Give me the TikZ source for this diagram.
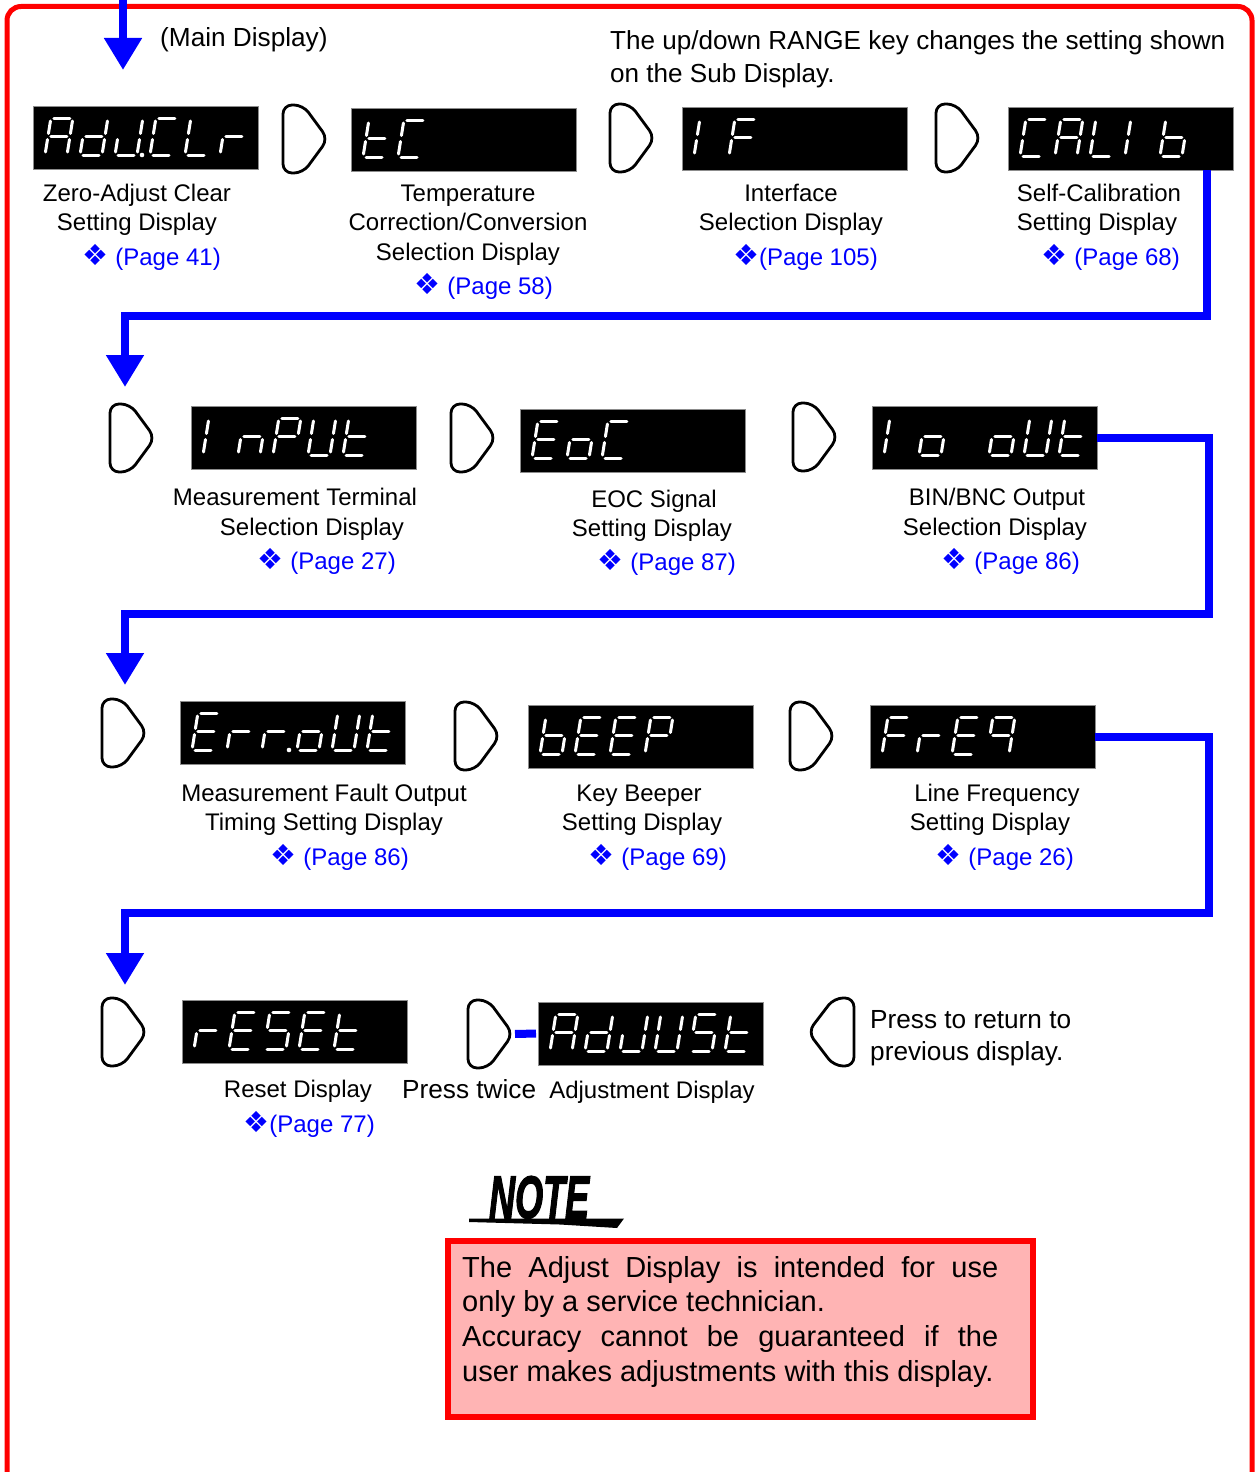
\documentclass[tikz,border=0pt]{standalone}
\usepackage{fontspec}
\setmainfont{Liberation Sans}
\newfontfamily\djv{DejaVu Sans}
\newfontfamily\notefont[FakeBold=2.5]{Liberation Sans}
\usetikzlibrary{arrows.meta,calc}
\definecolor{pblue}{RGB}{0,0,255}
\definecolor{nfill}{RGB}{255,180,180}
\newcommand\fsA{\fontsize{24}{29}\selectfont}
\newcommand\fsB{\fontsize{26.2}{32}\selectfont}
\newcommand\dmd{{\djv\fontsize{29}{29}\selectfont ❖}}
% seven-segment drawing
\newcommand\segln[4]{\draw[seg] ({\lcdX+#1+0.16*#2},{\lcdY-#2}) -- ({\lcdX+#3+0.16*#4},{\lcdY-#4});}
\def\sgA{\segln{3}{37}{19}{37}}
\def\sgB{\segln{22}{34}{22}{21.5}}
\def\sgC{\segln{22}{15.5}{22}{3}}
\def\sgD{\segln{3}{0}{19}{0}}
\def\sgE{\segln{0}{3}{0}{15.5}}
\def\sgF{\segln{0}{21.5}{0}{34}}
\def\sgG{\segln{3}{18.5}{19}{18.5}}
\def\sgDP{\fill[white] ({\lcdX-8},{\lcdY}) circle[radius=2.3pt];}
\newcommand\lcdadv{\pgfmathsetmacro\lcdX{\lcdX+35}}
\def\dgA{\sgA\sgB\sgC\sgE\sgF\sgG\lcdadv}
\def\dgb{\sgC\sgD\sgE\sgF\sgG\lcdadv}
\def\dgC{\sgA\sgD\sgE\sgF\lcdadv}
\def\dgd{\sgB\sgC\sgD\sgE\sgG\lcdadv}
\def\dgE{\sgA\sgD\sgE\sgF\sgG\lcdadv}
\def\dgF{\sgA\sgE\sgF\sgG\lcdadv}
\def\dgI{\sgE\sgF\lcdadv}
\def\dgJ{\sgB\sgC\sgD\sgE\lcdadv}
\def\dgL{\sgD\sgE\sgF\lcdadv}
\def\dgn{\sgC\sgE\sgG\lcdadv}
\def\dgo{\sgC\sgD\sgE\sgG\lcdadv}
\def\dgP{\sgA\sgB\sgE\sgF\sgG\lcdadv}
\def\dgq{\sgA\sgB\sgC\sgF\sgG\lcdadv}
\def\dgr{\sgE\sgG\lcdadv}
\def\dgS{\sgA\sgC\sgD\sgF\sgG\lcdadv}
\def\dgt{\sgD\sgE\sgF\sgG\lcdadv}
\def\dgU{\sgB\sgC\sgD\sgE\sgF\lcdadv}
\def\dgsp{\lcdadv}
\newcommand\lcd[4]{\node[lcdbox] (#1) at (#2,#3) {};
  \pgfmathsetmacro\lcdX{#2+12}\pgfmathsetmacro\lcdY{#3+49}#4}
\newcommand\keyR[3]{\coordinate (#1) at (#2,#3);
  \coordinate (#1t) at ($(#1)+(45,34)$);
  \draw[keyst] ($(#1)+(0,34)$) -- ++(0,-34) -- ++(20,0) -- ++(25,34) -- ++(-25,34) -- ++(-20,0) -- cycle;}
\newcommand\keyL[3]{\coordinate (#1) at (#2,#3);
  \draw[keyst] ($(#1)+(46,34)$) -- ++(0,-34) -- ++(-20,0) -- ++(-26,34) -- ++(26,34) -- ++(20,0) -- cycle;}
\tikzset{
  seg/.style={draw=white, line width=3pt, line cap=round},
  lcdbox/.style={fill=black, draw=black!45, line width=0.8pt, minimum width=225pt, minimum height=63pt, inner sep=0pt, outer sep=0pt, anchor=north west},
  keyst/.style={draw=black, fill=white, line width=2.8pt, rounded corners=9pt, line join=round},
  flow/.style={draw=pblue, line width=8pt, line join=miter, -{Triangle[width=36pt,length=32pt]}},
  flowline/.style={draw=pblue, line width=8pt, shorten <=2pt, shorten >=2pt},
  lbl/.style={font=\fsA, anchor=base, inner sep=0pt},
  lblw/.style={font=\fsB, anchor=base west, inner sep=0pt},
  pg/.style={font=\fsA, text=pblue, anchor=base east, inner sep=0pt},
  frame/.style={draw=red, line width=5pt, rounded corners=14pt},
}
\begin{document}
\begin{tikzpicture}[x=1pt,y=-1pt]
\useasboundingbox (0,0) rectangle (1255,1472);
% outer frame
\draw[frame] (7,1480) -- (7,6.5) -- (1252,6.5) -- (1252,1480);
% top arrow
\coordinate (a0s) at (123,-2);
\coordinate (a0) at (123,70);
\draw[flow] (a0s) -- (a0);
\node[lblw] (tmain) at (160,47) {(Main Display)};
\node[lblw, font=\fontsize{26.1}{32}\selectfont] (trange1) at (610,50) {The up/down RANGE key changes the setting shown};
\node[lblw, font=\fontsize{26.1}{32}\selectfont] (trange2) at (610,82) {on the Sub Display.};

% Row 1
\lcd{D1}{33}{106}{\dgA\dgd\dgJ\sgDP\dgC\dgL\dgr}
\keyR{K1}{283}{105}
\lcd{D2}{351}{108}{\dgt\dgC}
\keyR{K2}{610}{104}
\lcd{D3}{682}{107}{\dgI\dgF}
\keyR{K3}{936}{104}
\lcd{D4}{1008}{107}{\dgC\dgA\dgL\dgI\dgb}

\node[lbl] (l1a) at (137,201) {Zero-Adjust Clear};
\node[lbl] (l1b) at (137,230) {Setting Display};
\node[pg] (p1) at (221,265) {\dmd\ (Page 41)};
\node[lbl] (l2a) at (468,201) {Temperature};
\node[lbl] (l2b) at (468,230) {Correction/Conversion};
\node[lbl] (l2c) at (468,260) {Selection Display};
\node[pg] (p2) at (553,294) {\dmd\ (Page 58)};
\node[lbl] (l3a) at (791,201) {Interface};
\node[lbl] (l3b) at (791,230) {Selection Display};
\node[pg] (p3) at (878,265) {\dmd(Page 105)};
\node[lbl] (l4a) at (1099,201) {Self-Calibration};
\node[lbl] (l4b) at (1097,230) {Setting Display};
\node[pg] (p4) at (1180,265) {\dmd\ (Page 68)};

% connector 1
\coordinate (r1) at (1207,316);
\coordinate (l1) at (125,316);
\coordinate (a1) at (125,387);
\draw[flow] (D4.south -| r1) -- (r1) -- (l1) -- (a1);

% Row 2
\keyR{K4}{110}{404}
\lcd{D5}{191}{406}{\dgI\dgn\dgP\dgU\dgt}
\keyR{K5}{451}{404}
\lcd{D6}{520}{409}{\dgE\dgo\dgC}
\keyR{K6}{793}{403}
\lcd{D7}{872}{406}{\dgI\dgo\dgsp\dgo\dgU\dgt}

\node[lbl] (l5a) at (295,505) {Measurement Terminal};
\node[lbl] (l5b) at (312,535) {Selection Display};
\node[pg] (p5) at (396,569) {\dmd\ (Page 27)};
\node[lbl] (l6a) at (654,507) {EOC Signal};
\node[lbl] (l6b) at (652,536) {Setting Display};
\node[pg] (p6) at (736,570) {\dmd\ (Page 87)};
\node[lbl] (l7a) at (997,505) {BIN/BNC Output};
\node[lbl] (l7b) at (995,535) {Selection Display};
\node[pg] (p7) at (1080,569) {\dmd\ (Page 86)};

% connector 2
\coordinate (r2) at (1209,614);
\coordinate (l2) at (125,614);
\coordinate (a2) at (125,685);
\draw[flow] (D7.east) -| (r2) -- (l2) -- (a2);

% Row 3
\keyR{K7}{102}{699}
\lcd{D8}{180}{701}{\dgE\dgr\dgr\sgDP\dgo\dgU\dgt}
\keyR{K8}{455}{702}
\lcd{D9}{528}{705}{\dgb\dgE\dgE\dgP}
\keyR{K9}{790}{702}
\lcd{D10}{870}{705}{\dgF\dgr\dgE\dgq}

\node[lbl] (l8a) at (324,801) {Measurement Fault Output};
\node[lbl] (l8b) at (324,830) {Timing Setting Display};
\node[pg] (p8) at (409,865) {\dmd\ (Page 86)};
\node[lbl] (l9a) at (639,801) {Key Beeper};
\node[lbl] (l9b) at (642,830) {Setting Display};
\node[pg] (p9) at (727,865) {\dmd\ (Page 69)};
\node[lbl] (l10a) at (997,801) {Line Frequency};
\node[lbl] (l10b) at (990,830) {Setting Display};
\node[pg] (p10) at (1074,865) {\dmd\ (Page 26)};

% connector 3
\coordinate (r3) at (1209,913);
\coordinate (l3) at (125,913);
\coordinate (a3) at (125,985);
\draw[flow] (D10.east) -| (r3) -- (l3) -- (a3);

% Row 4
\keyR{K10}{102}{998}
\lcd{D11}{182}{1000}{\dgr\dgE\dgS\dgE\dgt}
\keyR{K11}{468}{1000}
\lcd{D12}{538}{1002}{\dgA\dgd\dgJ\dgU\dgS\dgt}
\draw[flowline] (K11t) -- (D12.west);
\keyL{KL}{808}{998}

\node[lbl] (l11a) at (298,1097) {Reset Display};
\node[pg] (p11) at (375,1132) {\dmd(Page 77)};
\node[lblw] (ltwice) at (402,1098) {Press twice};
\node[lbl] (l12a) at (652,1098) {Adjustment Display};
\node[lblw] (lret1) at (870,1028) {Press to return to};
\node[lblw] (lret2) at (870,1060) {previous display.};

% NOTE logo
\node[font=\notefont\fontsize{60}{60}\selectfont\bfseries\itshape, anchor=base west, inner sep=0pt, xscale=0.6, transform shape] (note) at (489,1218) {NOTE};
\fill[black] (469,1218.5) -- (624,1218.5) -- (617,1228) -- (560,1224.5) -- (469,1222) -- cycle;

% note box
\node[draw=red, fill=nfill, line width=6pt, minimum width=585pt, minimum height=176pt, anchor=north west, inner sep=0pt, outer sep=0pt] (nbox) at (448,1241) {};
\node[anchor=north west, text width=536pt, align=justify, inner sep=0pt, font=\fontsize{29}{34.7}\selectfont] (ntext) at (462,1256)
 {\noindent The Adjust Display is intended for use\linebreak only by a service technician.\par\noindent Accuracy cannot be guaranteed if the\linebreak user makes adjustments with this display.};
\end{tikzpicture}
\end{document}
